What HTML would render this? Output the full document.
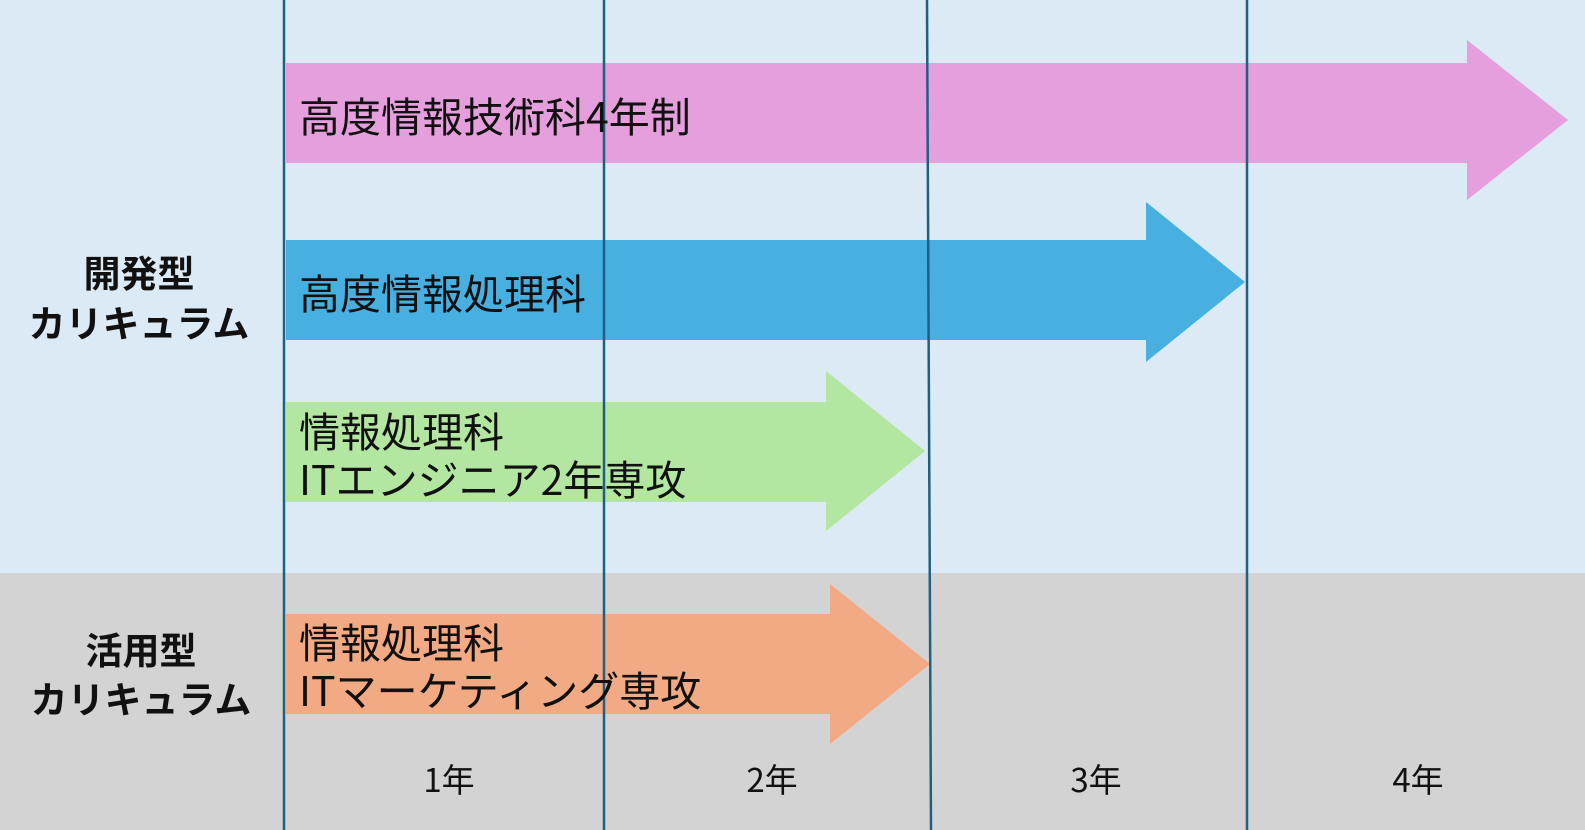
<!DOCTYPE html>
<html><head><meta charset="utf-8"><style>
html,body{margin:0;padding:0;}
svg{display:block;}
text{font-family:"Noto Sans CJK JP","Liberation Sans",sans-serif;fill:#111;}
</style></head><body>
<svg width="1585" height="830" viewBox="0 0 1585 830" xmlns="http://www.w3.org/2000/svg">
<rect x="0" y="0" width="1585" height="573" fill="#dceaf6"/>
<rect x="0" y="573" width="1585" height="257" fill="#d3d3d3"/>
<polygon points="286,63 1467,63 1467,40 1568,120 1467,200 1467,163 286,163" fill="#e59fdc"/>
<polygon points="286,240 1146,240 1146,202 1245,282 1146,362 1146,340 286,340" fill="#47b0e0"/>
<polygon points="286,402 826,402 826,371 925,451 826,531 826,502 286,502" fill="#b3e6a1"/>
<polygon points="286,614 830,614 830,584 930,664 830,744 830,714 286,714" fill="#f2aa85"/>
<g stroke="#1f5f80" stroke-width="2.5">
<line x1="284" y1="0" x2="284" y2="830"/>
<line x1="604" y1="0" x2="604" y2="830"/>
<line x1="927" y1="0" x2="931" y2="830"/>
<line x1="1247" y1="0" x2="1247" y2="830"/>
</g>
<g font-size="41">
<text x="299" y="132">高度情報技術科4年制</text>
<text x="299" y="309">高度情報処理科</text>
<text x="299" y="447">情報処理科</text>
<text x="299" y="495">ITエンジニア2年専攻</text>
<text x="299" y="658">情報処理科</text>
<text x="299" y="706">ITマーケティング専攻</text>
</g>
<g font-size="37" font-weight="bold" text-anchor="middle">
<text x="139" y="287">開発型</text>
<text x="139" y="337">カリキュラム</text>
<text x="141" y="664">活用型</text>
<text x="141" y="713">カリキュラム</text>
</g>
<g font-size="33" text-anchor="middle">
<text x="449" y="792">1年</text>
<text x="772" y="792">2年</text>
<text x="1096" y="792">3年</text>
<text x="1418" y="792">4年</text>
</g>
</svg>
</body></html>
